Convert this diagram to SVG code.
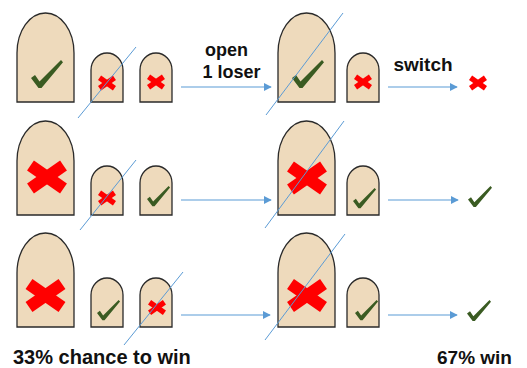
<svg xmlns="http://www.w3.org/2000/svg" xmlns:xlink="http://www.w3.org/1999/xlink" width="527" height="368" viewBox="0 0 527 368">
<style>
.door{fill:#EEDABC;stroke:#2a2a2a;stroke-width:1.3}
.conn{stroke:#5B9BD5;stroke-width:1.2;fill:none}
.slash{stroke:#5B9BD5;stroke-width:1;fill:none}
.lbl{font-family:"Liberation Sans",Arial,Helvetica,sans-serif;font-weight:bold;fill:#111}
</style>
<defs>
<marker id="ah" viewBox="0 0 10 10" refX="9" refY="5" markerWidth="8" markerHeight="8" markerUnits="userSpaceOnUse" orient="auto">
<path d="M0,0 L10,5 L0,10 z" fill="#5B9BD5"/>
</marker>
<polygon id="chk" points="0,18 4,15 8.5,21.5 30,0 32,2.2 10.5,28 7.5,28" fill="#3A5B22"/>
<g id="xx" stroke="#FF0000" stroke-width="12" stroke-linecap="butt">
<line x1="-16.5" y1="-11.5" x2="16.5" y2="11.5"/>
<line x1="-16.5" y1="11.5" x2="16.5" y2="-11.5"/>
</g>
</defs>

<!-- Row 1 -->
<g id="r1-door1"><path class="door" d="M17,102 V53 A28.5,40 0 0 1 74,53 V102 Z"/><use xlink:href="#chk" transform="translate(31,60)"/></g>
<g id="r1-door2"><path class="door" d="M91,102 V70 A16,17 0 0 1 123,70 V102 Z"/><use xlink:href="#xx" transform="translate(107,83) scale(0.45)"/></g>
<g id="r1-door3"><path class="door" d="M140,102 V70 A16,17 0 0 1 172,70 V102 Z"/><use xlink:href="#xx" transform="translate(156,82) scale(0.45)"/></g>
<g id="r1-door4"><path class="door" d="M278,102 V53 A28.5,40 0 0 1 335,53 V102 Z"/><use xlink:href="#chk" transform="translate(292,60)"/></g>
<g id="r1-door5"><path class="door" d="M347,102 V70 A16,17 0 0 1 379,70 V102 Z"/><use xlink:href="#xx" transform="translate(363,82) scale(0.45)"/></g>
<g id="r1-result"><use xlink:href="#xx" transform="translate(478,83) scale(0.45)"/></g>

<!-- Row 2 -->
<g id="r2-door1"><path class="door" d="M17,215 V161 A28.5,40 0 0 1 74,161 V215 Z"/><use xlink:href="#xx" transform="translate(47,177)"/></g>
<g id="r2-door2"><path class="door" d="M91,215 V183 A16,17 0 0 1 123,183 V215 Z"/><use xlink:href="#xx" transform="translate(107,198) scale(0.45)"/></g>
<g id="r2-door3"><path class="door" d="M140,215 V183 A16,17 0 0 1 172,183 V215 Z"/><use xlink:href="#chk" transform="translate(147,186) scale(0.72)"/></g>
<g id="r2-door4"><path class="door" d="M278,215 V161 A28.5,40 0 0 1 335,161 V215 Z"/><use xlink:href="#xx" transform="translate(307,178)"/></g>
<g id="r2-door5"><path class="door" d="M347,215 V183 A16,17 0 0 1 379,183 V215 Z"/><use xlink:href="#chk" transform="translate(353,188) scale(0.72)"/></g>
<g id="r2-result"><use xlink:href="#chk" transform="translate(468,186) scale(0.75)"/></g>

<!-- Row 3 -->
<g id="r3-door1"><path class="door" d="M17,327 V273 A28.5,40 0 0 1 74,273 V327 Z"/><use xlink:href="#xx" transform="translate(45.5,295.5)"/></g>
<g id="r3-door2"><path class="door" d="M91,327 V295 A16,17 0 0 1 123,295 V327 Z"/><use xlink:href="#chk" transform="translate(97,300) scale(0.72)"/></g>
<g id="r3-door3"><path class="door" d="M140,327 V295 A16,17 0 0 1 172,295 V327 Z"/><use xlink:href="#xx" transform="translate(157,307.5) scale(0.45)"/></g>
<g id="r3-door4"><path class="door" d="M278,327 V273 A28.5,40 0 0 1 335,273 V327 Z"/><use xlink:href="#xx" transform="translate(307,295.5)"/></g>
<g id="r3-door5"><path class="door" d="M347,327 V295 A16,17 0 0 1 379,295 V327 Z"/><use xlink:href="#chk" transform="translate(355,300) scale(0.72)"/></g>
<g id="r3-result"><use xlink:href="#chk" transform="translate(467,300) scale(0.75)"/></g>

<!-- Connectors -->
<g id="connectors">
<line class="conn" x1="181" y1="87" x2="271" y2="87" marker-end="url(#ah)"/>
<line class="conn" x1="388" y1="87" x2="457" y2="87" marker-end="url(#ah)"/>
<line class="conn" x1="181" y1="200" x2="271" y2="200" marker-end="url(#ah)"/>
<line class="conn" x1="388" y1="200" x2="458" y2="200" marker-end="url(#ah)"/>
<line class="conn" x1="181" y1="315" x2="270" y2="315" marker-end="url(#ah)"/>
<line class="conn" x1="388" y1="315" x2="457" y2="315" marker-end="url(#ah)"/>
<line class="slash" x1="78" y1="118" x2="136" y2="47"/>
<line class="slash" x1="266" y1="115" x2="343" y2="13"/>
<line class="slash" x1="80" y1="230" x2="136" y2="160"/>
<line class="slash" x1="265" y1="228" x2="344" y2="121"/>
<line class="slash" x1="124" y1="345" x2="183" y2="272"/>
<line class="slash" x1="265" y1="340" x2="345" y2="234"/>
</g>

<!-- Labels -->
<g id="labels">
<text class="lbl" x="226.5" y="56" font-size="18" text-anchor="middle">open</text>
<text class="lbl" x="231.5" y="78" font-size="18" text-anchor="middle">1 loser</text>
<text class="lbl" x="423" y="71" font-size="19" text-anchor="middle">switch</text>
<text class="lbl" x="13" y="364" font-size="20">33% chance to win</text>
<text class="lbl" x="437" y="364" font-size="19">67% win</text>
</g>
</svg>
